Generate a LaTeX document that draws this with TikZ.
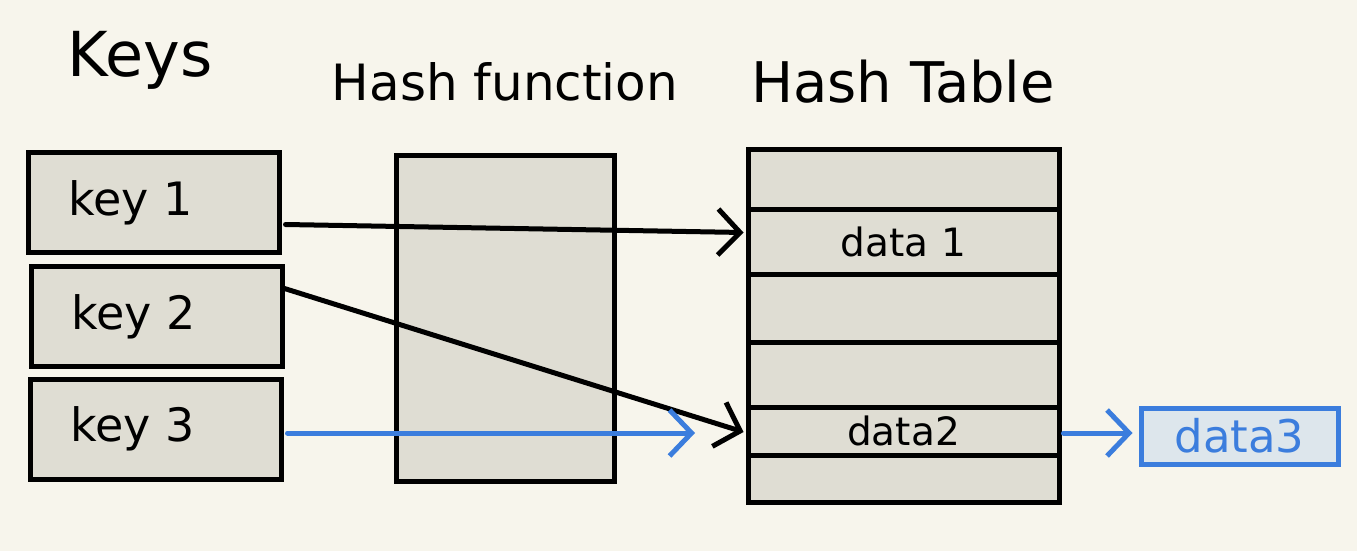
\documentclass[tikz,border=0pt]{standalone}
\usepackage{fontspec}
\setmainfont{DejaVu Sans}
\usetikzlibrary{arrows.meta, positioning, calc}
\definecolor{paper}{RGB}{247,245,236}
\definecolor{cellgray}{RGB}{223,221,211}
\definecolor{penblue}{RGB}{59,125,221}
\definecolor{paleblue}{RGB}{221,230,236}

\begin{document}
\begin{tikzpicture}[
  x=1pt, y=-1pt,
  every node/.style={font=\fontsize{46}{50}\selectfont},
  title/.style={font=\fontsize{56}{60}\selectfont},
  keybox/.style={
    draw, line width=5pt, fill=cellgray,
    minimum width=251pt, minimum height=100pt,
    text width=171pt, align=left, inner sep=0pt
  },
  cell/.style={
    draw, line width=5pt, fill=cellgray,
    minimum width=311pt, inner sep=0pt,
    font=\fontsize{39}{42}\selectfont
  },
  arrow/.style={-{Straight Barb[length=22pt, width=46pt]}, line width=5pt, line cap=round},
  bluearrow/.style={arrow, color=penblue}
]

  % Papier
  \path[fill=paper, use as bounding box] (0,0) rectangle (1357,551);

  % Titel
  \node[title, font=\fontsize{62}{66}\selectfont] (tkeys) at (140,60) {Keys};
  \node[title, font=\fontsize{50}{56}\selectfont] (tfunc) at (505,82) {Hash function};
  \node[title] (ttable) at (903,82) {Hash Table};

  % Schlüssel
  \node[keybox] (k1) at (153.5,202.5) {key 1};
  \node[keybox] (k2) at (156.5,316.5) {key 2};
  \node[keybox] (k3) at (155.5,429) {key 3};

  % Hashfunktion
  \node[draw, line width=5pt, fill=cellgray, minimum width=218pt, minimum height=326pt] (func) at (505,318) {};

  % Hashtabelle (Zeilen)
  \node[cell, minimum height=60pt] (row0) at (903.5,179) {};
  \node[cell, minimum height=65pt] (row1) at (903.5,241.5) {data 1};
  \node[cell, minimum height=68pt] (row2) at (903.5,308) {};
  \node[cell, minimum height=65pt] (row3) at (903.5,374.5) {};
  \node[cell, minimum height=48pt] (row4) at (903.5,431) {data2};
  \node[cell, minimum height=47pt] (row5) at (903.5,478.5) {};

  % Überlauf
  \node[draw=penblue, line width=5pt, fill=paleblue, text=penblue,
        minimum width=197pt, minimum height=56pt, inner sep=0pt,
        font=\fontsize{45}{48}\selectfont] (d3) at (1239.5,436) {data3};

  % Pfeile
  \coordinate (bluetip) at (695,433);
  \draw[arrow] ($(k1.east)+(4,22)$) -- ($(row1.west)+(-2,-9)$);
  \draw[arrow] ($(k2.east)+(0,-28)$) -- ($(row4.west)+(-2,1)$);
  \draw[bluearrow] ($(k3.east)+(4,4)$) -- (bluetip);
  \draw[bluearrow, shorten >=6pt] ($(row4.east)+(2,2)$) -- ($(d3.west)+(0,-3)$);

\end{tikzpicture}
\end{document}
